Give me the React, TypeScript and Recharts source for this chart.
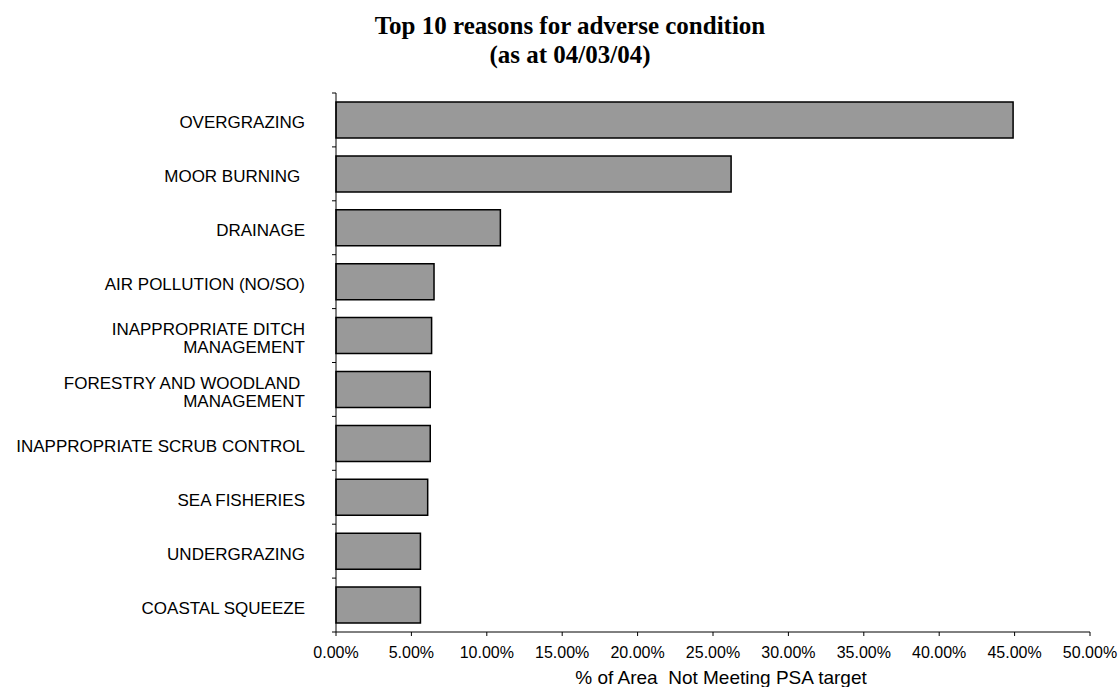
import React from "react";
import { BarChart, Bar, XAxis, YAxis, Cell } from "recharts";

const reasons = [
  "OVERGRAZING",
  "MOOR BURNING ",
  "DRAINAGE",
  "AIR POLLUTION (NO/SO)",
  "INAPPROPRIATE DITCH\nMANAGEMENT",
  "FORESTRY AND WOODLAND \nMANAGEMENT",
  "INAPPROPRIATE SCRUB CONTROL",
  "SEA FISHERIES",
  "UNDERGRAZING",
  "COASTAL SQUEEZE",
];

const areaShare = [0.449, 0.262, 0.109, 0.065, 0.0634, 0.0625, 0.0625, 0.0608, 0.056, 0.056];

const xTicks = [0, 0.05, 0.1, 0.15, 0.2, 0.25, 0.3, 0.35, 0.4, 0.45, 0.5];

const data = reasons.map((reason, i) => ({ reason, share: areaShare[i] }));

const W = 1119;
const H = 687;
const margin = { top: 93, right: 29, bottom: 0, left: 0 };
const xAxisHeight = 55;
const bandSize = (H - margin.top - margin.bottom - xAxisHeight) / reasons.length;
const labelGap = 31;

function ReasonTick(props: any) {
  const { x, y, payload, index } = props;
  const lines = String(payload.value).split("\n");
  const lineHeight = 18.3;
  const axisX = x + labelGap;
  const firstBaseline = y + 8.5 - ((lines.length - 1) / 2) * lineHeight;
  return (
    <g>
      <line x1={axisX - 4} x2={axisX} y1={y - bandSize / 2} y2={y - bandSize / 2} stroke="#000" />
      {index === reasons.length - 1 && (
        <line x1={axisX - 4} x2={axisX} y1={y + bandSize / 2} y2={y + bandSize / 2} stroke="#000" />
      )}
      <text
        x={x}
        y={firstBaseline}
        textAnchor="end"
        fill="#000"
        fontSize={17}
        fontFamily="'Liberation Sans', Arial, sans-serif"
        style={{ whiteSpace: "pre" }}
      >
        {lines.map((line, i) => (
          <tspan key={i} x={x} y={firstBaseline + i * lineHeight}>
            {line}
          </tspan>
        ))}
      </text>
    </g>
  );
}

function AxisTitle(props: any) {
  const vb = props.viewBox || {};
  const cx = (vb.x ?? 336) + (vb.width ?? 754) / 2 + 8;
  return (
    <text
      x={cx}
      y={684}
      textAnchor="middle"
      fill="#000"
      fontSize={19}
      fontFamily="'Liberation Sans', Arial, sans-serif"
      style={{ whiteSpace: "pre" }}
    >
      % of Area  Not Meeting PSA target
    </text>
  );
}

export default function App() {
  return (
    <div style={{ position: "absolute", left: 0, top: 0, width: W, height: H, background: "#fff" }}>
      <div
        style={{
          position: "absolute",
          left: 0,
          top: 11,
          width: 1140,
          textAlign: "center",
          fontFamily: "'Liberation Serif', 'Times New Roman', serif",
          fontWeight: "bold",
          fontSize: 25,
          lineHeight: "29px",
          color: "#000",
        }}
      >
        Top 10 reasons for adverse condition
        <br />
        (as at 04/03/04)
      </div>
      <BarChart width={W} height={H} data={data} layout="vertical" margin={margin}>
        <XAxis
          type="number"
          dataKey="share"
          domain={[0, 0.5]}
          ticks={xTicks}
          interval={0}
          height={xAxisHeight}
          tickSize={4}
          tickMargin={11}
          axisLine={{ stroke: "#000" }}
          tickLine={{ stroke: "#000" }}
          tick={{ fill: "#000", fontSize: 16, fontFamily: "'Liberation Sans', Arial, sans-serif" }}
          tickFormatter={(v: number) => `${(v * 100).toFixed(2)}%`}
          label={<AxisTitle />}
        />
        <YAxis
          type="category"
          dataKey="reason"
          width={336}
          interval={0}
          tickSize={0}
          tickMargin={labelGap}
          axisLine={{ stroke: "#000" }}
          tickLine={false}
          tick={<ReasonTick />}
        />
        <Bar dataKey="share" barSize={36} isAnimationActive={false} stroke="#000" strokeWidth={1.5}>
          {data.map((d, i) => (
            <Cell key={`cell-${i}`} fill="#999999" />
          ))}
        </Bar>
      </BarChart>
    </div>
  );
}
